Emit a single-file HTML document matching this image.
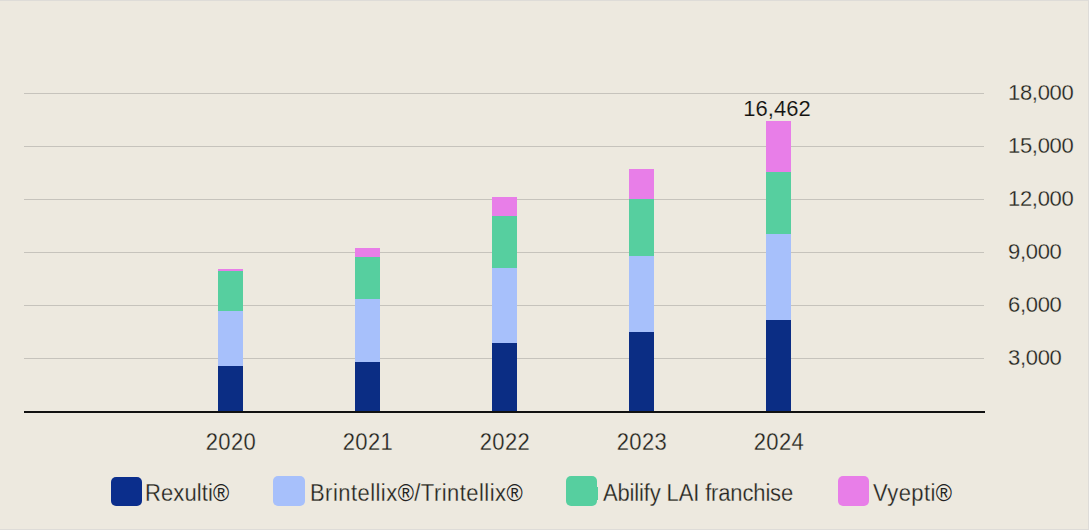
<!DOCTYPE html>
<html><head><meta charset="utf-8">
<style>
html,body{margin:0;padding:0;}
body{width:1089px;height:530px;position:relative;overflow:hidden;background:#EDE9DF;font-family:"Liberation Sans",sans-serif;}
.a{position:absolute;}
.g{position:absolute;left:24px;width:960px;height:1px;background:#C6C3BC;}
.bar{position:absolute;width:25px;}
.nv{background:#0B2D84;}
.lb{background:#A7C0FB;}
.gr{background:#56CF9F;}
.pk{background:#E87EE8;}
.yl{-webkit-text-stroke:0.25px #EDE9DF;position:absolute;left:1008px;letter-spacing:-0.3px;font-size:22px;transform:scaleY(1.03);transform-origin:0 0;color:#222;line-height:20px;white-space:nowrap;}
.xl{-webkit-text-stroke:0.25px #EDE9DF;letter-spacing:0.4px;position:absolute;width:80px;text-align:center;font-size:22px;transform:scaleY(1.06);transform-origin:0 0;color:#222;line-height:20px;}
.sw{position:absolute;top:476px;height:30px;border-radius:5px;}
.lt{-webkit-text-stroke:0.25px #EDE9DF;position:absolute;top:482px;font-size:22px;transform:scaleY(1.06);transform-origin:0 0;color:#222;line-height:20px;white-space:nowrap;}
.r{-webkit-text-stroke:0;}
.edge-t{position:absolute;left:0;top:0;width:1089px;height:1px;background:#DEDCD8;}
.edge-b{position:absolute;left:0;top:529px;width:1089px;height:1px;background:#DEDCD8;}
.edge-r{position:absolute;left:1088px;top:0;width:1px;height:530px;background:#DEDCD8;}
</style></head><body>
<div class="edge-t"></div><div class="edge-b"></div><div class="edge-r"></div>

<div class="g" style="top:93px"></div>
<div class="g" style="top:146px"></div>
<div class="g" style="top:199px"></div>
<div class="g" style="top:252px"></div>
<div class="g" style="top:305px"></div>
<div class="g" style="top:358px"></div>

<div class="yl" style="top:81.5px">18,000</div>
<div class="yl" style="top:134.5px">15,000</div>
<div class="yl" style="top:187.5px">12,000</div>
<div class="yl" style="top:240.5px">9,000</div>
<div class="yl" style="top:293.5px">6,000</div>
<div class="yl" style="top:346.5px">3,000</div>

<!-- 2020 -->
<div class="bar pk" style="left:218px;top:269px;height:2px"></div>
<div class="bar gr" style="left:218px;top:271px;height:40px"></div>
<div class="bar lb" style="left:218px;top:311px;height:55px"></div>
<div class="bar nv" style="left:218px;top:366px;height:45px"></div>
<!-- 2021 -->
<div class="bar pk" style="left:355px;top:248px;height:9px"></div>
<div class="bar gr" style="left:355px;top:257px;height:42px"></div>
<div class="bar lb" style="left:355px;top:299px;height:63px"></div>
<div class="bar nv" style="left:355px;top:362px;height:49px"></div>
<!-- 2022 -->
<div class="bar pk" style="left:492px;top:197px;height:19px"></div>
<div class="bar gr" style="left:492px;top:216px;height:52px"></div>
<div class="bar lb" style="left:492px;top:268px;height:75px"></div>
<div class="bar nv" style="left:492px;top:343px;height:68px"></div>
<!-- 2023 -->
<div class="bar pk" style="left:629px;top:169px;height:30px"></div>
<div class="bar gr" style="left:629px;top:199px;height:57px"></div>
<div class="bar lb" style="left:629px;top:256px;height:76px"></div>
<div class="bar nv" style="left:629px;top:332px;height:79px"></div>
<!-- 2024 -->
<div class="bar pk" style="left:766px;top:121px;height:51px"></div>
<div class="bar gr" style="left:766px;top:172px;height:62px"></div>
<div class="bar lb" style="left:766px;top:234px;height:86px"></div>
<div class="bar nv" style="left:766px;top:320px;height:91px"></div>

<div class="a" style="left:24px;top:411px;width:961px;height:2px;background:#111;"></div>

<div class="a" style="left:737px;top:99px;width:80px;text-align:center;font-size:22px;-webkit-text-stroke:0.15px #EDE9DF;transform:scaleY(1.0);transform-origin:0 0;line-height:20px;color:#111;">16,462</div>

<div class="xl" style="left:191px;top:432px">2020</div>
<div class="xl" style="left:328px;top:432px">2021</div>
<div class="xl" style="left:465px;top:432px">2022</div>
<div class="xl" style="left:602px;top:432px">2023</div>
<div class="xl" style="left:739px;top:432px">2024</div>

<div class="sw nv" style="left:111px;width:31px;top:477px;height:29px;background:#0B2E8C"></div>
<div class="lt" style="left:145px;top:482.5px;letter-spacing:0.12px">Rexulti<span class="r">®</span></div>
<div class="sw lb" style="left:273px;width:32px"></div>
<div class="lt" style="left:310px;top:482.5px;letter-spacing:0.45px">Brintellix<span class="r">®</span>/Trintellix<span class="r">®</span></div>
<div class="sw gr" style="left:566px;width:31px"></div>
<div class="a gr" style="left:595px;top:487px;width:3px;height:13px"></div>
<div class="lt" style="left:603px;top:482.5px;letter-spacing:-0.15px">Abilify LAI franchise</div>
<div class="sw pk" style="left:838px;width:31px"></div>
<div class="lt" style="left:873px;top:482.5px;letter-spacing:0.4px">Vyepti<span class="r">®</span></div>
</body></html>
